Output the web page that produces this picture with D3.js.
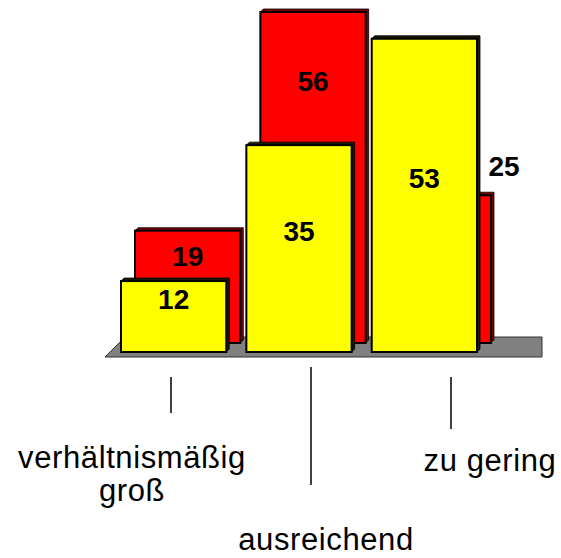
<!DOCTYPE html>
<html>
<head>
<meta charset="utf-8">
<script src="https://cdn.jsdelivr.net/npm/d3@7"></script>
<style>
  body { margin: 0; background: #fff; }
  svg { display: block; }
  .num { font-family: "Liberation Sans", Arial, sans-serif; font-weight: bold; font-size: 28px; fill: #000; }
  .cat { font-family: "Liberation Sans", Arial, sans-serif; font-size: 31px; fill: #000; letter-spacing: 0.6px; }
</style>
</head>
<body>
<svg id="chart"></svg>
<script>
// data
const categories = ["verhältnismäßig groß", "ausreichend", "zu gering"]
const categoryLines = [["verhältnismäßig", "groß"], ["ausreichend"], ["zu gering"]]
const frontValues = [12, 35, 53]   // yellow, front row
const backValues = [19, 56, 25]    // red, back row

const width = 561, height = 558
const svg = d3.select("#chart").attr("width", width).attr("height", height)

// front row sits at frontBase, back row is pushed in depth
const frontBase = 352
const depth = { x: 14, y: -9 }
const side = 3

const x = d3.scaleBand()
    .domain(categories)
    .range([121, 477])
    .paddingInner(0.16)
const h = d3.scaleLinear().domain([0, 56]).range([0, 331])

// floor
const floorLeft = x.range()[0] - 16
const floorPts = [[floorLeft, frontBase + 5], [floorLeft + 20, frontBase - 15], [542, frontBase - 15], [542, frontBase + 5]]
svg.append("polygon")
    .attr("points", floorPts.map(p => p.join(",")).join(" "))
    .attr("fill", "#808080")
    .attr("stroke", "#333")
    .attr("stroke-width", 1)

// one bar with thin side and top faces
const drawBar = (g, bx, base, bw, bh, fill, dark) => {
    const top = base - bh
    g.append("polygon")
        .attr("points", [[bx, top], [bx + side, top - side], [bx + bw + side, top - side], [bx + bw + side, base - side], [bx + bw, base]].map(p => p.join(",")).join(" "))
        .attr("fill", dark)
        .attr("stroke", "#000")
        .attr("stroke-width", 0.8)
    g.append("rect")
        .attr("x", bx).attr("y", top)
        .attr("width", bw).attr("height", bh)
        .attr("fill", fill)
        .attr("stroke", "#000")
        .attr("stroke-width", 2)
}

const backG = svg.append("g")
categories.forEach((c, i) => {
    drawBar(backG, x(c) + depth.x, frontBase + depth.y, x.bandwidth(), h(backValues[i]), "#ff0000", "#7a0000")
})
const frontG = svg.append("g")
categories.forEach((c, i) => {
    drawBar(frontG, x(c), frontBase, x.bandwidth(), h(frontValues[i]), "#ffff00", "#1a1a00")
})

// value labels
const labelG = svg.append("g")
categories.forEach((c, i) => {
    const v = frontValues[i]
    labelG.append("text").attr("class", "num")
        .attr("x", x(c) + x.bandwidth() / 2)
        .attr("y", frontBase - h(v) / 2 - 17)
        .attr("text-anchor", "middle")
        .attr("dominant-baseline", "central")
        .text(v)
})
categories.forEach((c, i) => {
    const v = backValues[i]
    const base = frontBase + depth.y
    // back bar hidden behind the front one: put its label beside it
    const hidden = base - h(v) > frontBase - h(frontValues[i])
    labelG.append("text").attr("class", "num")
        .attr("x", hidden ? x(c) + depth.x + x.bandwidth() + 13 : x(c) + depth.x + x.bandwidth() / 2)
        .attr("y", hidden ? base - h(v * 1.2) + 1 : base - h(v * 0.8) + 3)
        .attr("text-anchor", "middle")
        .attr("dominant-baseline", "central")
        .text(v)
})

// category labels, staggered with leader lines
const tick = d3.scalePoint().domain(categories).range([171, 451])
const catLayout = [
    { dx: -39, baseline: 468, lineTop: 377, lineBottom: 413 },
    { dx: 15, baseline: 550, lineTop: 367, lineBottom: 485 },
    { dx: 39, baseline: 471, lineTop: 377, lineBottom: 429 }
]
const catG = svg.append("g")
categories.forEach((c, i) => {
    const L = catLayout[i]
    catG.append("line")
        .attr("x1", tick(c)).attr("x2", tick(c))
        .attr("y1", L.lineTop).attr("y2", L.lineBottom)
        .attr("stroke", "#000").attr("stroke-width", 1.5)
    const t = catG.append("text").attr("class", "cat")
        .attr("text-anchor", "middle")
    categoryLines[i].forEach((line, j) => {
        t.append("tspan")
            .attr("x", tick(c) + L.dx)
            .attr("y", L.baseline + j * 33)
            .text(line)
    })
})
</script>
</body>
</html>
